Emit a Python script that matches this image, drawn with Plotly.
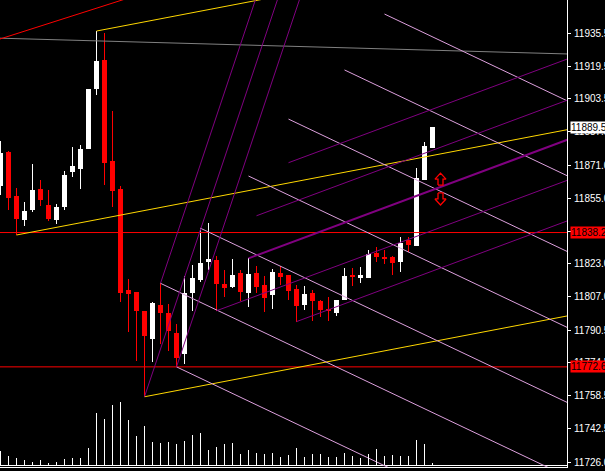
import plotly.graph_objects as go

# ---------------- data ----------------
bars = list(range(55))
opens = [11860.9, 11877.5, 11856.0, 11844.3, 11849.2, 11859.5, 11851.6, 11844.3, 11850.7, 11867.8,
         11869.2, 11879.0, 11908.3, 11922.5, 11873.1, 11859.5, 11810.1, 11809.3, 11800.0, 11786.4,
         11802.8, 11798.9, 11789.1, 11779.0, 11808.7, 11815.2, 11824.0, 11824.8, 11813.2, 11811.8,
         11818.6, 11808.8, 11818.6, 11812.6, 11807.7, 11818.6, 11817.5, 11810.6, 11802.8, 11808.7,
         11804.8, 11800.9, 11798.9, 11805.3, 11817.5, 11816.1, 11816.0, 11828.4, 11826.3, 11826.3,
         11823.8, 11834.6, 11831.6, 11863.9, 11879.6]
highs = [11882.9, 11877.8, 11860.0, 11853.1, 11871.7, 11863.9, 11859.0, 11852.1, 11868.3, 11880.0,
         11881.0, 11908.3, 11936.6, 11935.6, 11897.6, 11860.9, 11815.5, 11809.3, 11800.0, 11804.4,
         11813.4, 11803.3, 11793.5, 11817.0, 11822.4, 11840.3, 11842.7, 11826.7, 11819.9, 11825.3,
         11819.9, 11825.6, 11822.0, 11817.1, 11820.4, 11821.9, 11817.5, 11812.6, 11812.1, 11810.1,
         11805.3, 11806.6, 11805.3, 11820.9, 11820.9, 11821.4, 11829.7, 11831.1, 11829.7, 11826.7,
         11836.2, 11836.2, 11869.6, 11882.3, 11889.5]
lows = [11856.5, 11849.2, 11837.0, 11841.4, 11848.2, 11851.2, 11843.8, 11842.4, 11849.2, 11865.3,
        11859.5, 11879.0, 11905.4, 11861.4, 11850.7, 11804.4, 11789.6, 11775.5, 11758.0, 11775.1,
        11783.8, 11780.4, 11772.6, 11774.2, 11800.0, 11814.2, 11819.9, 11800.0, 11806.9, 11811.3,
        11804.9, 11802.0, 11808.5, 11799.5, 11800.9, 11812.6, 11805.3, 11794.7, 11800.4, 11795.2,
        11797.1, 11795.2, 11797.4, 11805.3, 11812.1, 11813.4, 11816.0, 11824.0, 11822.8, 11817.5,
        11818.9, 11828.8, 11831.6, 11863.9, 11879.6]
closes = [11877.0, 11855.1, 11844.8, 11848.7, 11859.0, 11854.1, 11844.8, 11850.7, 11866.3, 11870.7,
          11879.0, 11908.3, 11922.0, 11872.2, 11858.5, 11808.7, 11808.3, 11800.0, 11787.8, 11803.9,
          11799.1, 11790.3, 11777.1, 11808.7, 11816.0, 11823.5, 11825.3, 11813.2, 11811.3, 11817.6,
          11809.3, 11818.0, 11811.8, 11806.4, 11819.1, 11816.6, 11809.7, 11802.3, 11808.2, 11804.8,
          11800.4, 11799.9, 11805.3, 11817.0, 11816.5, 11817.5, 11827.7, 11826.4, 11825.3, 11823.5,
          11833.2, 11832.1, 11864.7, 11880.5, 11889.5]
volumes = [143, 93, 73, 53, 33, 53, 23, 33, 63, 73,
           73, 173, 523, 463, 603, 633, 453, 293, 393, 233,
           223, 233, 213, 243, 303, 323, 153, 183, 213, 223,
           113, 153, 123, 113, 123, 83, 103, 173, 83, 113,
           113, 83, 83, 123, 93, 73, 113, 163, 93, 103,
           93, 93, 253, 213, 23]

price_ticks = [11935.5, 11919.5, 11903.5, 11887.5, 11871.0, 11855.0, 11838.5,
               11823.0, 11807.0, 11790.5, 11774.5, 11758.5, 11742.5, 11726.0]
top_tick = 11952.0

red_levels = [11838.2, 11772.6]
bid_price = 11889.5

# Andrews pitchfork anchors (bar, price)
pitchfork_pts = [(18, 11758.0), (20, 11813.4), (22, 11772.6)]
# gold parallel channel
gold_starts = [(2, 11837.0), (12, 11936.6), (18, 11758.0)]
gold_slope = 0.747          # price per bar
# plum descending parallels
plum_starts = [(20, 11813.4), (22, 11772.6), (25, 11840.3), (31, 11865.8),
               (36, 11893.6), (43, 11917.6), (48, 11944.9)]
plum_slope = -1.856
# purple ascending parallels (third one is drawn thicker)
purple_starts = [(27, 11800.0), (37, 11794.7), (31, 11825.6), (32, 11846.4), (36, 11872.3)]
purple_widths = [1, 1, 2, 1, 1]
purple_slope = 1.453
# other trendlines (two anchors each)
red_trend = [(0, 11932.8), (15, 11951.5)]
gray_trend = [(0, 11933.1), (70, 11925.5)]
# arrow objects (bar, price, direction)
arrow_bars = [55, 55]
arrow_prices = [11864.3, 11854.6]
arrow_dirs = [1, -1]

# ---------------- view / style ----------------
X_RANGE = [-0.0625, 70.8125]
Y_RANGE = [11723.70, 11951.76]
PLOT_W, PLOT_H = 567, 467
K_END = 75

WHITE = "#FFFFFF"
RED = "#FF0000"
GOLD = "#FFD700"
PLUM = "#DDA0DD"
PURPLE = "#800080"
GRAY = "#808080"
LABEL_FONT = dict(color=WHITE, size=10, family="Liberation Sans")
BOX_FONT = dict(color="#000000", size=10, family="Liberation Sans")
# hollow block-arrow glyph outline, in screen pixels relative to its centre (pointing up)
ARROW_GLYPH = [(-2.5, -6), (-2.5, 0), (-5.5, 0), (0, 6), (5.5, 0), (2.5, 0), (2.5, -6), (-2.5, -6)]

px_x = (X_RANGE[1] - X_RANGE[0]) / PLOT_W
px_y = (Y_RANGE[1] - Y_RANGE[0]) / PLOT_H


def ray(k0, p0, slope, k1=K_END):
    return [k0, k1], [p0, p0 + slope * (k1 - k0)]


def through(a, b, k_from, k_to):
    (ka, pa), (kb, pb) = a, b
    s = (pb - pa) / (kb - ka)
    return [k_from, k_to], [pa + s * (k_from - ka), pa + s * (k_to - ka)]


fig = go.Figure()

colors = [WHITE if c >= o else RED for o, c in zip(opens, closes)]

# volume
fig.add_trace(go.Bar(x=bars, y=volumes, width=0.125, marker=dict(color=WHITE, line=dict(width=0)),
                     yaxis="y2", hoverinfo="skip", showlegend=False))
# wicks
fig.add_trace(go.Bar(x=bars, y=[h - l for h, l in zip(highs, lows)], base=lows, width=0.125,
                     marker=dict(color=colors, line=dict(width=0)), hoverinfo="skip", showlegend=False))
# bodies
fig.add_trace(go.Bar(x=bars, y=[max(abs(c - o), 0.4) for o, c in zip(opens, closes)],
                     base=[min(o, c) for o, c in zip(opens, closes)], width=0.625,
                     marker=dict(color=colors, line=dict(width=0)), hoverinfo="skip", showlegend=False))


def add_line(xs, ys, color, width=1):
    fig.add_trace(go.Scatter(x=xs, y=ys, mode="lines", line=dict(color=color, width=width),
                             hoverinfo="skip", showlegend=False))


# horizontal levels
for lv in red_levels:
    add_line([-1, K_END], [lv, lv], RED)

# gray and red trendlines
add_line(*through(gray_trend[0], gray_trend[1], -1, K_END), GRAY)
add_line(*through(red_trend[0], red_trend[1], -1, 20), RED)

# gold channel
for k0, p0 in gold_starts:
    add_line(*ray(k0, p0, gold_slope), GOLD)

# plum parallels
for k0, p0 in plum_starts:
    add_line(*ray(k0, p0, plum_slope), PLUM)

# purple ascending parallels
for (k0, p0), w in zip(purple_starts, purple_widths):
    add_line(*ray(k0, p0, purple_slope), PURPLE, w)

# Andrews pitchfork
(k1, p1), (k2, p2), (k3, p3) = pitchfork_pts
mid = ((k2 + k3) / 2, (p2 + p3) / 2)
pf_slope = (mid[1] - p1) / (mid[0] - k1)
for k0, p0 in pitchfork_pts:
    add_line(*ray(k0, p0, pf_slope, 45), PURPLE)

# arrow objects
for k0, p0, d in zip(arrow_bars, arrow_prices, arrow_dirs):
    add_line([k0 + gx * px_x for gx, gy in ARROW_GLYPH],
             [p0 + d * gy * px_y for gx, gy in ARROW_GLYPH], RED, 1.3)

annotations = []
for lv in red_levels:
    annotations.append(dict(x=1, xref="paper", y=lv, yref="y", xanchor="left", yanchor="middle",
                            xshift=3, text=f"{lv:.1f}", showarrow=False, bgcolor=RED,
                            font=BOX_FONT, borderpad=0))
annotations.append(dict(x=1, xref="paper", y=bid_price, yref="y", xanchor="left", yanchor="middle",
                        xshift=3, text=f"{bid_price:.1f}", showarrow=False, bgcolor=WHITE,
                        font=BOX_FONT, borderpad=0))
annotations.append(dict(x=1, xref="paper", y=top_tick, yref="y", xanchor="left", yanchor="middle",
                        xshift=4, text=f"{top_tick:.1f}", showarrow=False, font=LABEL_FONT))

fig.update_layout(
    width=605, height=471,
    margin=dict(l=0, r=605 - PLOT_W, t=0, b=471 - PLOT_H, pad=0, autoexpand=False),
    paper_bgcolor="#000000", plot_bgcolor="#000000",
    barmode="overlay", bargap=0,
    showlegend=False,
    annotations=annotations,
    xaxis=dict(range=X_RANGE, showgrid=False, zeroline=False, showticklabels=False, ticks="",
               showline=True, linecolor=WHITE, linewidth=1, fixedrange=True, automargin=False),
    yaxis=dict(range=Y_RANGE, side="right", showgrid=False, zeroline=False,
               tickvals=price_ticks, ticktext=[f"{v:.1f}" for v in price_ticks],
               ticks="outside", ticklen=3, tickcolor=WHITE, tickwidth=1,
               ticklabelstandoff=1, tickfont=LABEL_FONT, automargin=False,
               showline=True, linecolor=WHITE, linewidth=1, fixedrange=True),
    yaxis2=dict(range=[-17, 4653], overlaying="y", side="left", visible=True, showgrid=False,
                showticklabels=False, ticks="", showline=False, automargin=False,
                zeroline=True, zerolinecolor=WHITE, zerolinewidth=1, fixedrange=True),
)

fig.write_html("out.html", config={"displayModeBar": False},
               post_script="document.body.style.margin='0';document.body.style.background='#000';")
